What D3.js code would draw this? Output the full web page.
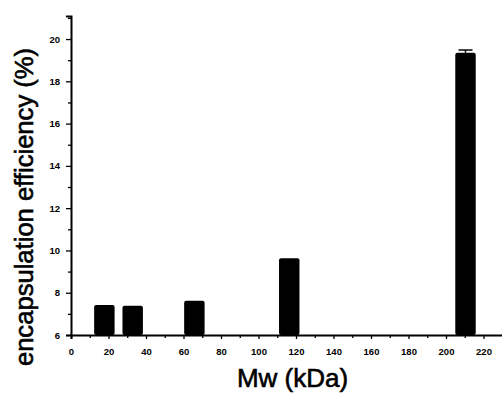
<!DOCTYPE html>
<html>
<head>
<meta charset="utf-8">
<script src="https://cdn.jsdelivr.net/npm/d3@7"></script>
<style>
  body { margin: 0; background: #fff; }
  svg { display: block; }
  .tick text { font-family: "Liberation Sans", Arial, sans-serif; font-weight: bold; font-size: 9.5px; }
  .title { font-family: "Liberation Sans", Arial, sans-serif; stroke: #000; stroke-width: 0.6px; }
</style>
</head>
<body>
<svg id="chart" width="502" height="393"></svg>
<script>
// molecular weight of each sample (kDa) and its efficiency (%)
const mw = [17.8, 32.9, 65.8, 116.4, 210.4];
const efficiency = [7.42, 7.38, 7.62, 9.63, 19.35];
const errors = [0, 0, 0, 0, 0.13];
const xTicks = [0, 20, 40, 60, 80, 100, 120, 140, 160, 180, 200, 220];
const yTicks = [6, 8, 10, 12, 14, 16, 18, 20];
const barWidth = 10.9; // kDa

const svg = d3.select("#chart");

const x = d3.scaleLinear().domain([0, 230.4]).range([71, 503]);
const y = d3.scaleLinear().domain([6, 21.09]).range([335, 16]);

// bars
svg.append("g")
    .selectAll("rect")
    .data(mw)
    .enter()
    .append("rect")
    .attr("x", (d) => x(d - barWidth / 2))
    .attr("width", x(barWidth) - x(0))
    .attr("y", (d, i) => y(efficiency[i]))
    .attr("height", (d, i) => y(6) - y(efficiency[i]))
    .attr("rx", 2)
    .attr("fill", "#000");

// error bars
const eg = svg.append("g").attr("stroke", "#000").attr("stroke-width", 1.5);
mw.forEach((d, i) => {
    if (!errors[i]) return;
    eg.append("line")
        .attr("x1", x(d)).attr("x2", x(d))
        .attr("y1", y(efficiency[i])).attr("y2", y(efficiency[i] + errors[i]));
    eg.append("line")
        .attr("x1", x(d) - 7).attr("x2", x(d) + 7)
        .attr("y1", y(efficiency[i] + errors[i])).attr("y2", y(efficiency[i] + errors[i]));
});

// y axis
svg.append("g")
    .attr("transform", "translate(71,0)")
    .call(d3.axisLeft(y).tickValues(yTicks).tickSize(5).tickPadding(6).tickFormat(d3.format("d")));
svg.append("g")
    .attr("transform", "translate(71,0)")
    .call(d3.axisLeft(y).tickValues(d3.range(7, 22, 2)).tickSize(3).tickFormat(""))
    .select(".domain").remove();

// x axis
svg.append("g")
    .attr("transform", "translate(0,335)")
    .call(d3.axisBottom(x).tickValues(xTicks).tickSize(4).tickPadding(9).tickFormat(d3.format("d")));
svg.append("g")
    .attr("transform", "translate(0,335)")
    .call(d3.axisBottom(x).tickValues(d3.range(10, 230, 20)).tickSize(3).tickFormat(""))
    .select(".domain").remove();

svg.selectAll(".domain").attr("stroke-width", 2);
svg.selectAll(".tick line").attr("stroke-width", 1.3);

// titles
svg.append("text")
    .attr("class", "title")
    .attr("transform", "translate(33,207) rotate(-90)")
    .attr("text-anchor", "middle")
    .style("font-size", "25.6px")
    .text("encapsulation efficiency (%)");

svg.append("text")
    .attr("class", "title")
    .attr("x", 292.5)
    .attr("y", 387)
    .attr("text-anchor", "middle")
    .style("font-size", "26px")
    .text("Mw (kDa)");
</script>
</body>
</html>
